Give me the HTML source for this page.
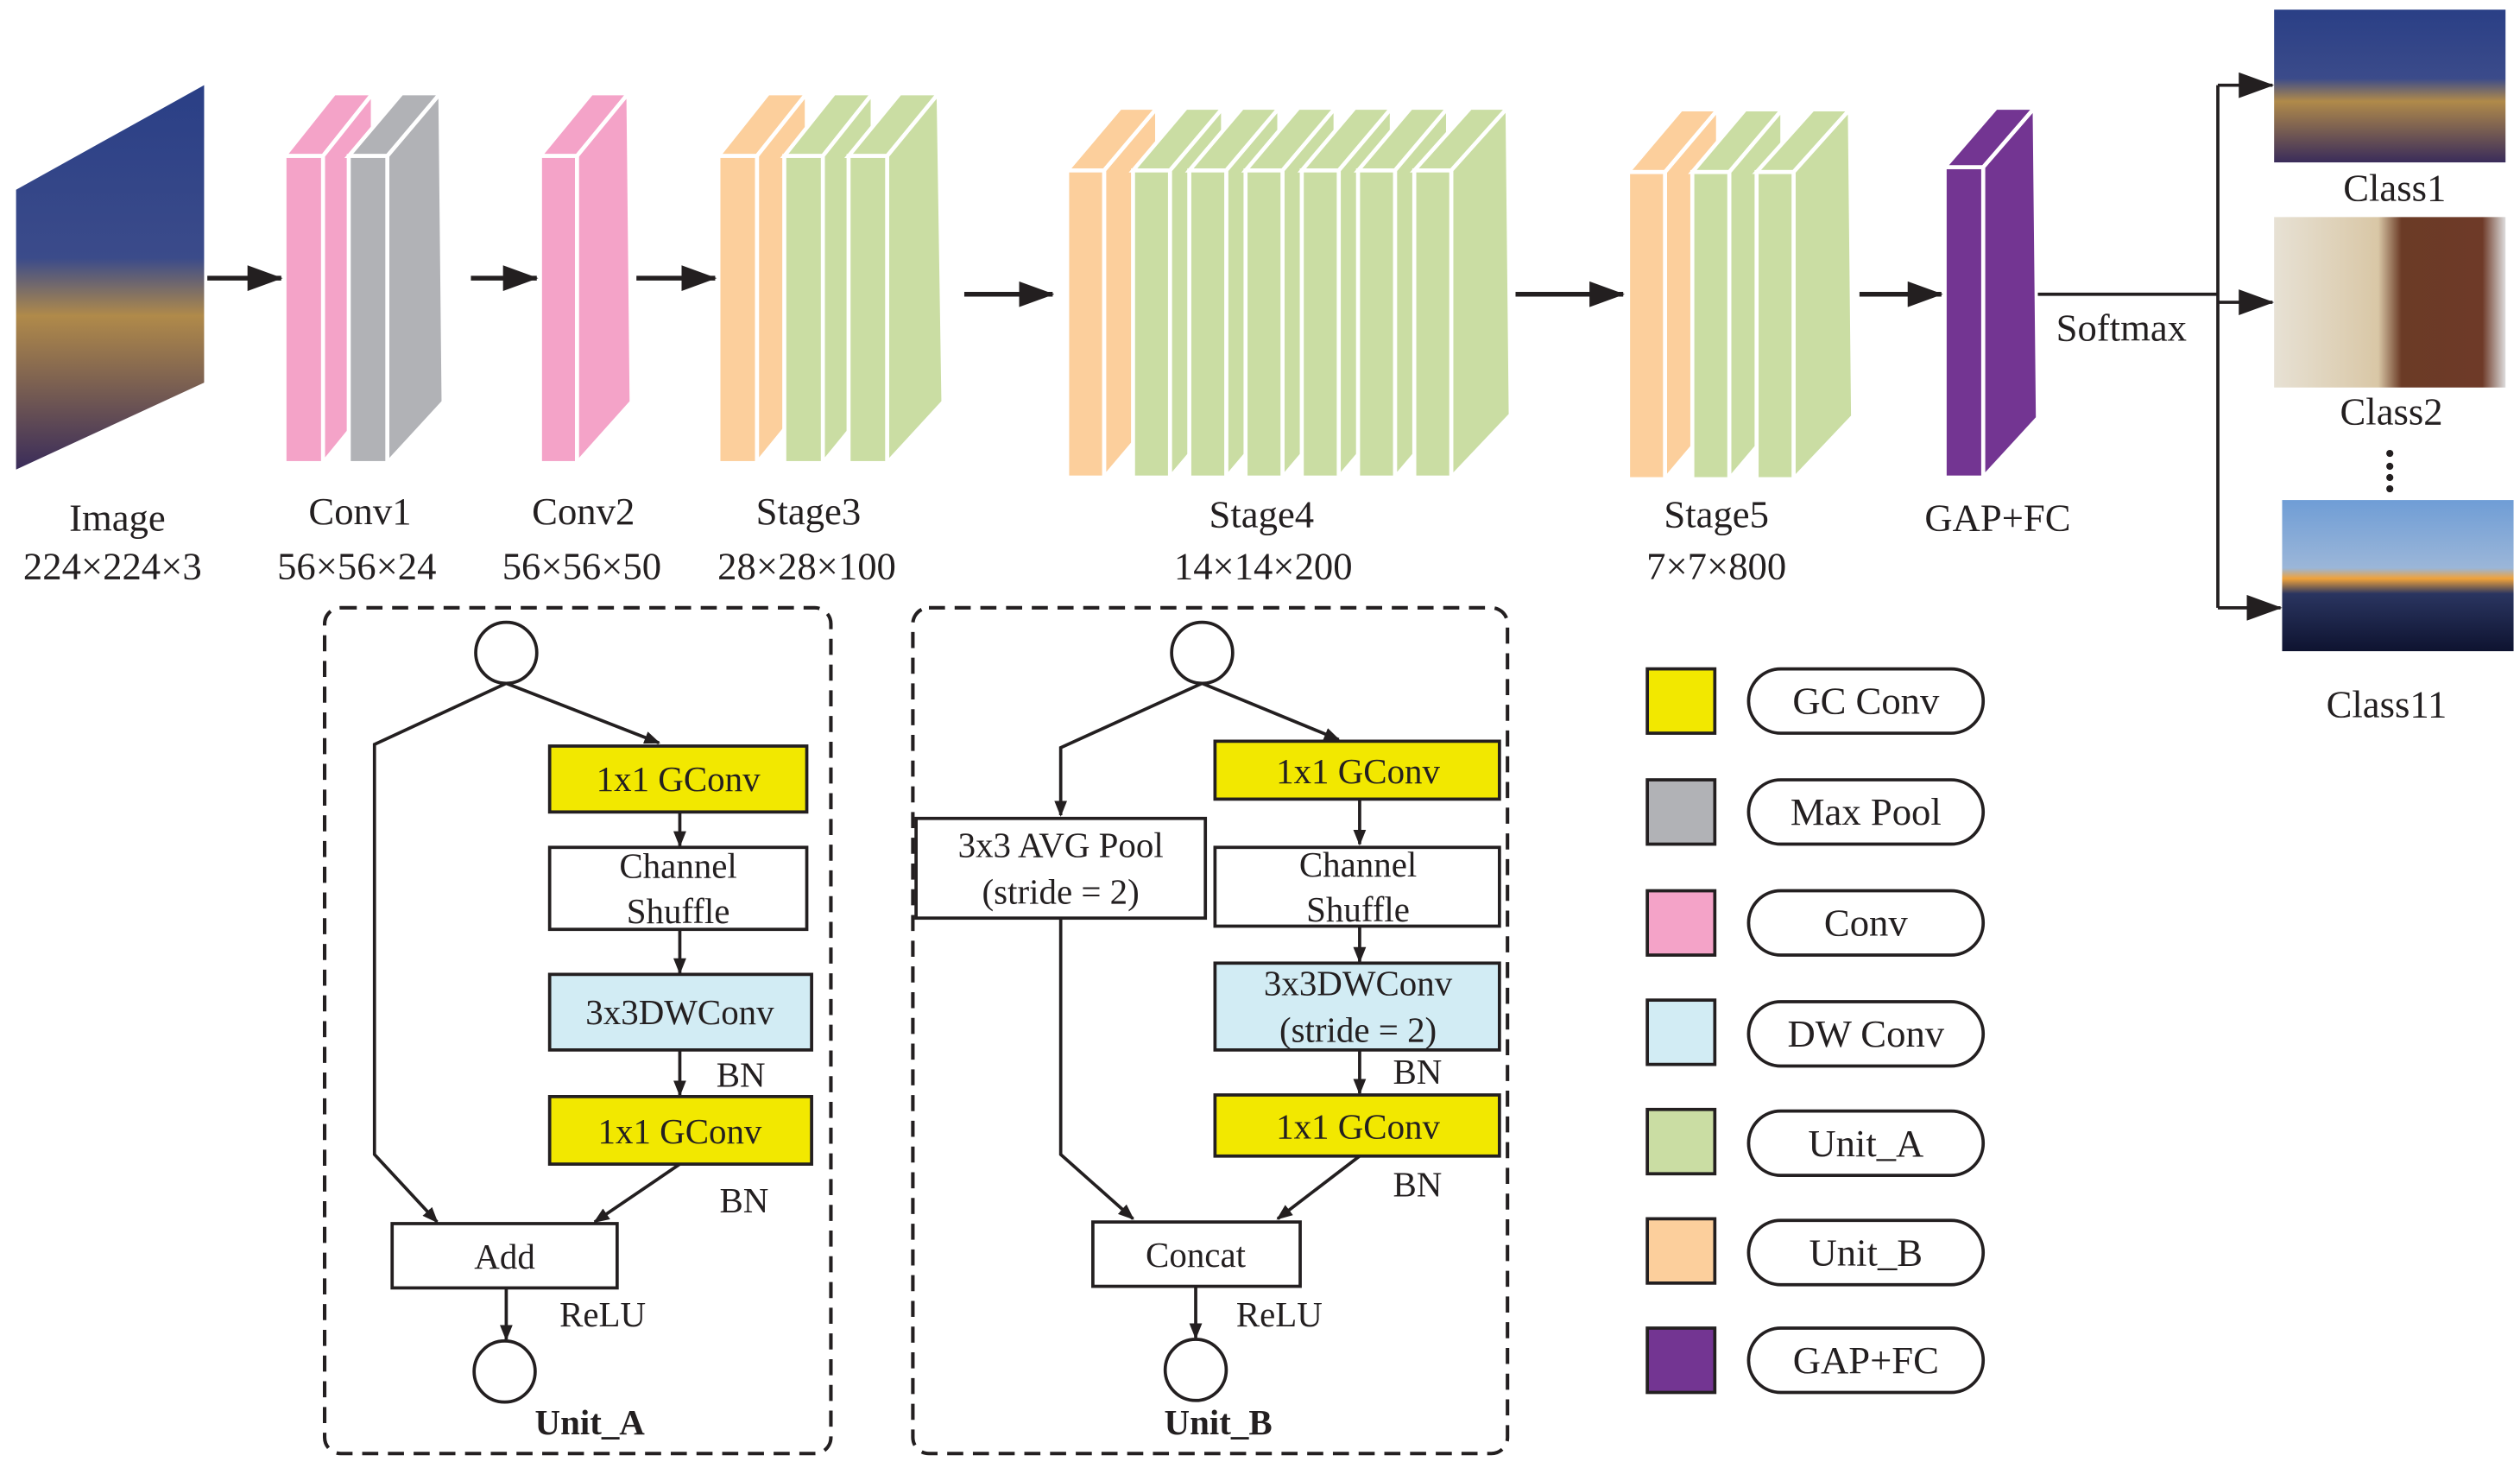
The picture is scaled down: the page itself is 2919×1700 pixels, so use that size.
<!DOCTYPE html>
<html><head><meta charset="utf-8"><style>
html,body{margin:0;padding:0;background:#fff;}
svg{display:block;}
text{font-family:"Liberation Serif",serif;fill:#231f20;}
</style></head><body>
<svg width="2919" height="1700" viewBox="0 0 1568 913" preserveAspectRatio="none" xmlns="http://www.w3.org/2000/svg">
<defs>
<marker id="ah" markerWidth="10" markerHeight="8" refX="9" refY="4" orient="auto" markerUnits="userSpaceOnUse"><path d="M0,0 L10,4 L0,8z" fill="#231f20"/></marker>
<marker id="bh" markerWidth="22" markerHeight="16" refX="21" refY="8" orient="auto" markerUnits="userSpaceOnUse"><path d="M0,0 L22,8 L0,16z" fill="#231f20"/></marker>
<linearGradient id="city" x1="0" y1="0" x2="0" y2="1"><stop offset="0" stop-color="#2a3f86"/><stop offset="0.45" stop-color="#3b4b8a"/><stop offset="0.6" stop-color="#b08a4a"/><stop offset="1" stop-color="#3a2c5a"/></linearGradient>
<linearGradient id="food" x1="0" y1="0" x2="1" y2="0"><stop offset="0" stop-color="#e7e1d4"/><stop offset="0.45" stop-color="#d9c7a6"/><stop offset="0.55" stop-color="#6b3b26"/><stop offset="0.9" stop-color="#6e3a28"/><stop offset="1" stop-color="#ddd"/></linearGradient>
<linearGradient id="mtn" x1="0" y1="0" x2="0" y2="1"><stop offset="0" stop-color="#6f9dd6"/><stop offset="0.45" stop-color="#9bb6d8"/><stop offset="0.52" stop-color="#f0a23a"/><stop offset="0.62" stop-color="#2a3560"/><stop offset="1" stop-color="#0e1330"/></linearGradient>
</defs>

<!-- input image -->
<polygon points="10,118 127,53 127,238 10,292" fill="url(#city)"/>

<g stroke="#fff" stroke-width="2.5">
<!-- Conv1 -->
<g fill="#f4a3c8"><polygon points="177,97 201,97 232,58 208,58"/><polygon points="201,97 232,58 232,250 201,288"/><rect x="177" y="97" width="24" height="191"/></g>
<g fill="#b1b2b6"><polygon points="217,97 241,97 274,58 250,58"/><polygon points="241,97 274,58 276,250 241,288"/><rect x="217" y="97" width="24" height="191"/></g>
<!-- Conv2 -->
<g fill="#f4a3c8"><polygon points="336,97 359,97 391,58 368,58"/><polygon points="359,97 391,58 393,250 359,288"/><rect x="336" y="97" width="23" height="191"/></g>
<!-- Stage3 -->
<g fill="#fccf9c"><polygon points="447,97 471,97 502,58 478,58"/><polygon points="471,97 502,58 502,250 471,288"/><rect x="447" y="97" width="24" height="191"/></g>
<g fill="#cadda3"><polygon points="488,97 512,97 543,58 519,58"/><polygon points="512,97 543,58 543,250 512,288"/><rect x="488" y="97" width="24" height="191"/></g>
<g fill="#cadda3"><polygon points="528,97 552,97 584,58 560,58"/><polygon points="552,97 584,58 587,250 552,288"/><rect x="528" y="97" width="24" height="191"/></g>
<!-- Stage4 -->
<g fill="#fccf9c"><polygon points="664,106 687,106 720,67 697,67"/><polygon points="687,106 720,67 720,258 687,297"/><rect x="664" y="106" width="23" height="191"/></g>
<g fill="#cadda3">
<polygon points="705,106 728,106 761,67 738,67"/><polygon points="728,106 761,67 761,258 728,297"/><rect x="705" y="106" width="23" height="191"/>
<polygon points="740,106 763,106 796,67 773,67"/><polygon points="763,106 796,67 796,258 763,297"/><rect x="740" y="106" width="23" height="191"/>
<polygon points="775,106 798,106 831,67 808,67"/><polygon points="798,106 831,67 831,258 798,297"/><rect x="775" y="106" width="23" height="191"/>
<polygon points="810,106 833,106 866,67 843,67"/><polygon points="833,106 866,67 866,258 833,297"/><rect x="810" y="106" width="23" height="191"/>
<polygon points="845,106 868,106 901,67 878,67"/><polygon points="868,106 901,67 901,258 868,297"/><rect x="845" y="106" width="23" height="191"/>
<polygon points="880,106 903,106 938,67 915,67"/><polygon points="903,106 938,67 940,258 903,297"/><rect x="880" y="106" width="23" height="191"/>
</g>
<!-- Stage5 -->
<g fill="#fccf9c"><polygon points="1013,107 1036,107 1069,68 1046,68"/><polygon points="1036,107 1069,68 1069,259 1036,298"/><rect x="1013" y="107" width="23" height="191"/></g>
<g fill="#cadda3">
<polygon points="1053,107 1076,107 1109,68 1086,68"/><polygon points="1076,107 1109,68 1109,259 1076,298"/><rect x="1053" y="107" width="23" height="191"/>
<polygon points="1093,107 1116,107 1151,68 1128,68"/><polygon points="1116,107 1151,68 1153,259 1116,298"/><rect x="1093" y="107" width="23" height="191"/>
</g>
<!-- GAP+FC -->
<g fill="#733592"><polygon points="1210,104 1234,104 1266,67 1242,67"/><polygon points="1234,104 1266,67 1268,260 1234,297"/><rect x="1210" y="104" width="24" height="193"/></g>
</g>

<!-- top arrows -->
<g stroke="#231f20" stroke-width="3" fill="none" marker-end="url(#bh)">
<line x1="129" y1="173" x2="175" y2="173"/>
<line x1="293" y1="173" x2="334" y2="173"/>
<line x1="396" y1="173" x2="445" y2="173"/>
<line x1="600" y1="183" x2="655" y2="183"/>
<line x1="943" y1="183" x2="1010" y2="183"/>
<line x1="1157" y1="183" x2="1208" y2="183"/>
</g>
<g stroke="#231f20" stroke-width="2" fill="none">
<line x1="1268" y1="183" x2="1380" y2="183"/>
<line x1="1380" y1="53" x2="1380" y2="378"/>
<line x1="1380" y1="53" x2="1414" y2="53" marker-end="url(#bh)"/>
<line x1="1380" y1="188" x2="1414" y2="188" marker-end="url(#bh)"/>
<line x1="1380" y1="378" x2="1419" y2="378" marker-end="url(#bh)"/>
</g>
<text x="1320" y="212" font-size="24" text-anchor="middle">Softmax</text>

<!-- output photos -->
<rect x="1415" y="6" width="144" height="95" fill="url(#city)"/>
<rect x="1415" y="135" width="144" height="106" fill="url(#food)"/>
<rect x="1420" y="311" width="144" height="94" fill="url(#mtn)"/>
<text x="1490" y="125" font-size="24" text-anchor="middle">Class1</text>
<text x="1488" y="264" font-size="24" text-anchor="middle">Class2</text>
<g fill="#231f20"><circle cx="1487" cy="282" r="2.2"/><circle cx="1487" cy="290" r="2.2"/><circle cx="1487" cy="297" r="2.2"/><circle cx="1487" cy="304" r="2.2"/></g>
<text x="1485" y="446" font-size="24" text-anchor="middle">Class11</text>

<!-- top labels -->
<g font-size="24" text-anchor="middle">
<text x="73" y="330">Image</text><text x="70" y="360">224×224×3</text>
<text x="224" y="326">Conv1</text><text x="222" y="360">56×56×24</text>
<text x="363" y="326">Conv2</text><text x="362" y="360">56×56×50</text>
<text x="503" y="326">Stage3</text><text x="502" y="360">28×28×100</text>
<text x="785" y="328">Stage4</text><text x="786" y="360">14×14×200</text>
<text x="1068" y="328">Stage5</text><text x="1068" y="360">7×7×800</text>
<text x="1243" y="330">GAP+FC</text>
</g>

<!-- dashed boxes -->
<g fill="none" stroke="#231f20" stroke-width="2.2" stroke-dasharray="10,6">
<rect x="202" y="378" width="315" height="526" rx="10"/>
<rect x="568" y="378" width="370" height="526" rx="10"/>
</g>

<!-- Unit A -->
<g stroke="#231f20" stroke-width="2" fill="none">
<circle cx="315" cy="406" r="19"/>
<polyline points="315,425 233,463 233,718 272,760" marker-end="url(#ah)"/>
<line x1="315" y1="425" x2="410" y2="462" marker-end="url(#ah)"/>
<line x1="423" y1="505" x2="423" y2="526" marker-end="url(#ah)"/>
<line x1="423" y1="578" x2="423" y2="605" marker-end="url(#ah)"/>
<line x1="423" y1="653" x2="423" y2="681" marker-end="url(#ah)"/>
<line x1="423" y1="724" x2="370" y2="760" marker-end="url(#ah)"/>
<line x1="315" y1="801" x2="315" y2="833" marker-end="url(#ah)"/>
<circle cx="314" cy="853" r="19"/>
<rect x="342" y="464" width="160" height="41" fill="#f2e800"/>
<rect x="342" y="527" width="160" height="51" fill="#fff"/>
<rect x="342" y="606" width="163" height="47" fill="#d2ecf4"/>
<rect x="342" y="682" width="163" height="42" fill="#f2e800"/>
<rect x="244" y="761" width="140" height="40" fill="#fff"/>
</g>
<g font-size="22" text-anchor="middle">
<text x="422" y="492">1x1 GConv</text>
<text x="422" y="546">Channel</text><text x="422" y="574">Shuffle</text>
<text x="423" y="637">3x3DWConv</text>
<text x="423" y="711">1x1 GConv</text>
<text x="314" y="789">Add</text>
<text x="461" y="676">BN</text><text x="463" y="754">BN</text>
<text x="375" y="825">ReLU</text>
<text x="367" y="892" font-weight="bold">Unit_A</text>
</g>

<!-- Unit B -->
<g stroke="#231f20" stroke-width="2" fill="none">
<circle cx="748" cy="406" r="19"/>
<polyline points="748,425 660,465 660,507" marker-end="url(#ah)"/>
<line x1="748" y1="425" x2="833" y2="460" marker-end="url(#ah)"/>
<line x1="846" y1="497" x2="846" y2="525" marker-end="url(#ah)"/>
<line x1="846" y1="576" x2="846" y2="598" marker-end="url(#ah)"/>
<line x1="846" y1="653" x2="846" y2="680" marker-end="url(#ah)"/>
<line x1="846" y1="719" x2="795" y2="758" marker-end="url(#ah)"/>
<polyline points="660,571 660,718 705,758" marker-end="url(#ah)"/>
<line x1="744" y1="800" x2="744" y2="832" marker-end="url(#ah)"/>
<circle cx="744" cy="852" r="19"/>
<rect x="756" y="461" width="177" height="36" fill="#f2e800"/>
<rect x="570" y="509" width="180" height="62" fill="#fff"/>
<rect x="756" y="527" width="177" height="49" fill="#fff"/>
<rect x="756" y="599" width="177" height="54" fill="#d2ecf4"/>
<rect x="756" y="681" width="177" height="38" fill="#f2e800"/>
<rect x="680" y="760" width="129" height="40" fill="#fff"/>
</g>
<g font-size="22" text-anchor="middle">
<text x="845" y="487">1x1 GConv</text>
<text x="660" y="533">3x3 AVG Pool</text><text x="660" y="562">(stride = 2)</text>
<text x="845" y="545">Channel</text><text x="845" y="573">Shuffle</text>
<text x="845" y="619">3x3DWConv</text><text x="845" y="648">(stride = 2)</text>
<text x="845" y="708">1x1 GConv</text>
<text x="744" y="788">Concat</text>
<text x="882" y="674">BN</text><text x="882" y="744">BN</text>
<text x="796" y="825">ReLU</text>
<text x="758" y="892" font-weight="bold">Unit_B</text>
</g>

<!-- legend -->
<g stroke="#231f20" stroke-width="2">
<rect x="1025" y="416" width="42" height="40" fill="#f2e800"/>
<rect x="1025" y="485" width="42" height="40" fill="#b1b2b6"/>
<rect x="1025" y="554" width="42" height="40" fill="#f4a3c8"/>
<rect x="1025" y="622" width="42" height="40" fill="#d2ecf4"/>
<rect x="1025" y="690" width="42" height="40" fill="#cadda3"/>
<rect x="1025" y="758" width="42" height="40" fill="#fccf9c"/>
<rect x="1025" y="826" width="42" height="40" fill="#733592"/>
<g fill="#fff">
<rect x="1088" y="416" width="146" height="40" rx="20"/>
<rect x="1088" y="485" width="146" height="40" rx="20"/>
<rect x="1088" y="554" width="146" height="40" rx="20"/>
<rect x="1088" y="623" width="146" height="40" rx="20"/>
<rect x="1088" y="691" width="146" height="40" rx="20"/>
<rect x="1088" y="759" width="146" height="40" rx="20"/>
<rect x="1088" y="826" width="146" height="40" rx="20"/>
</g>
</g>
<g font-size="24" text-anchor="middle">
<text x="1161" y="444">GC Conv</text>
<text x="1161" y="513">Max Pool</text>
<text x="1161" y="582">Conv</text>
<text x="1161" y="651">DW Conv</text>
<text x="1161" y="719">Unit_A</text>
<text x="1161" y="787">Unit_B</text>
<text x="1161" y="854">GAP+FC</text>
</g>
</svg>
</body></html>
